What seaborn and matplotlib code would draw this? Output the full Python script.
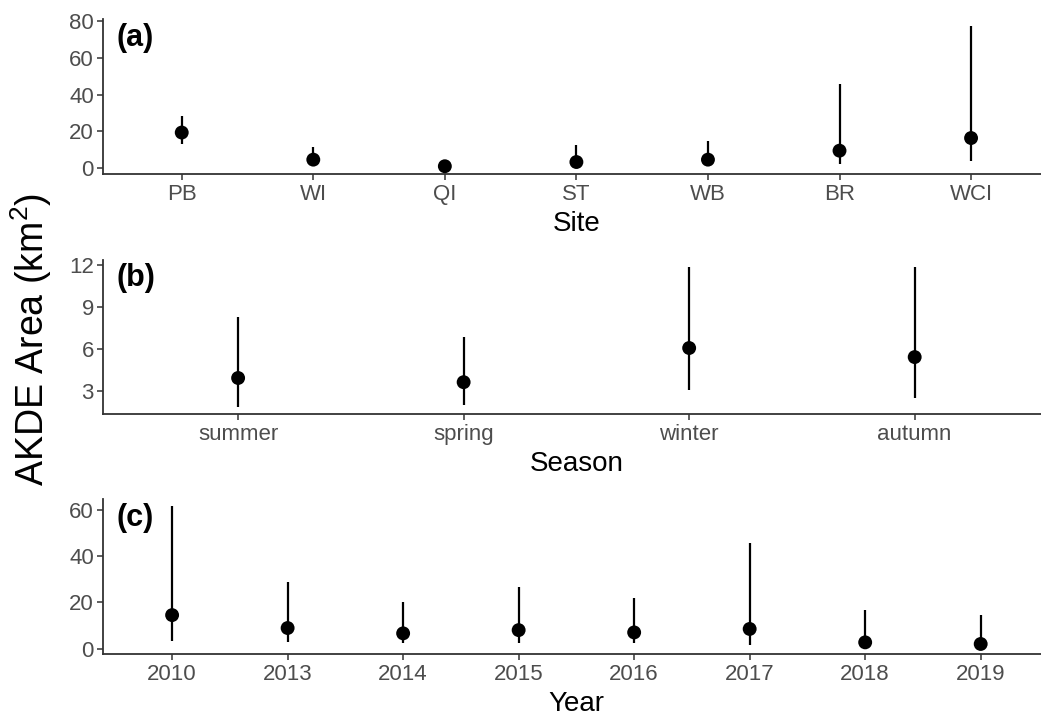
import matplotlib
matplotlib.use("Agg")
import matplotlib.pyplot as plt
from matplotlib.ticker import MultipleLocator
import seaborn as sns
import pandas as pd

# Home-range area (AKDE, km^2): point estimate with lower / upper bounds
sites = ["PB", "WI", "QI", "ST", "WB", "BR", "WCI"]
site_est = [19.3, 4.5, 0.9, 3.2, 4.5, 9.4, 16.3]
site_low = [13.2, 1.2, 0.5, 0.5, 1.2, 2.2, 3.6]
site_high = [28.3, 11.6, 1.5, 12.5, 14.6, 45.7, 77.3]

seasons = ["summer", "spring", "winter", "autumn"]
season_est = [3.9, 3.6, 6.05, 5.4]
season_low = [1.82, 1.94, 3.07, 2.43]
season_high = [8.3, 6.85, 11.86, 11.86]

years = ["2010", "2013", "2014", "2015", "2016", "2017", "2018", "2019"]
year_est = [14.5, 8.9, 6.6, 8.0, 7.0, 8.5, 2.7, 2.0]
year_low = [3.4, 2.9, 2.3, 2.6, 2.3, 1.6, 0.9, 0.7]
year_high = [61.6, 28.9, 20.0, 26.8, 22.1, 45.9, 16.5, 14.4]

sns.set_theme(style="ticks")
plt.rcParams["font.family"] = ["Liberation Sans", "DejaVu Sans"]
plt.rcParams["mathtext.fontset"] = "custom"
plt.rcParams["mathtext.rm"] = "Liberation Sans"
plt.rcParams["mathtext.it"] = "Liberation Sans:italic"

W, H = 1041, 718
fig = plt.figure(figsize=(W / 100, H / 100), dpi=100)

left_px, right_px = 102.8, 1050.0
panels = [
    dict(top=19.3, bottom=174.0, cats=sites, est=site_est, lo=site_low, hi=site_high,
         xlabel="Site", tag="(a)", step=20),
    dict(top=260.0, bottom=414.0, cats=seasons, est=season_est, lo=season_low, hi=season_high,
         xlabel="Season", tag="(b)", step=3),
    dict(top=499.3, bottom=654.0, cats=years, est=year_est, lo=year_low, hi=year_high,
         xlabel="Year", tag="(c)", step=20),
]

axis_col = "#333333"
tick_col = "#4D4D4D"

for p in panels:
    ax = fig.add_axes([left_px / W, 1 - p["bottom"] / H,
                       (right_px - left_px) / W, (p["bottom"] - p["top"]) / H])
    df = pd.DataFrame({"cat": p["cats"], "est": p["est"], "lo": p["lo"], "hi": p["hi"]})
    ax.vlines(df["cat"], df["lo"], df["hi"], color="black", linewidth=1.6, zorder=2)
    sns.scatterplot(data=df, x="cat", y="est", ax=ax, color="black", s=100,
                    edgecolor="none", zorder=3, legend=False)
    n = len(p["cats"])
    ax.set_xlim(-0.6, n - 0.4)
    ax.yaxis.set_major_locator(MultipleLocator(p["step"]))
    ax.margins(y=0.05)
    sns.despine(ax=ax)
    for side in ("left", "bottom"):
        ax.spines[side].set_color(axis_col)
        ax.spines[side].set_linewidth(1.3)
    ax.tick_params(axis="both", colors=axis_col, labelcolor=tick_col,
                   labelsize=16, length=4, width=1.1)
    ax.tick_params(axis="x", pad=3.5)
    ax.tick_params(axis="y", pad=2.5)
    ax.set_xlabel(p["xlabel"], fontsize=20, color="black", labelpad=4)
    ax.set_ylabel("")
    ax.text(0.014, 0.88, p["tag"], transform=ax.transAxes, fontsize=22,
            fontweight="bold", ha="left", va="center", color="black")

fig.text(31 / W, 1 - 340 / H, r"AKDE Area (km$^{2}$)", rotation=90,
         fontsize=27, ha="center", va="center", color="black")

fig.savefig("out.png", dpi=100)
